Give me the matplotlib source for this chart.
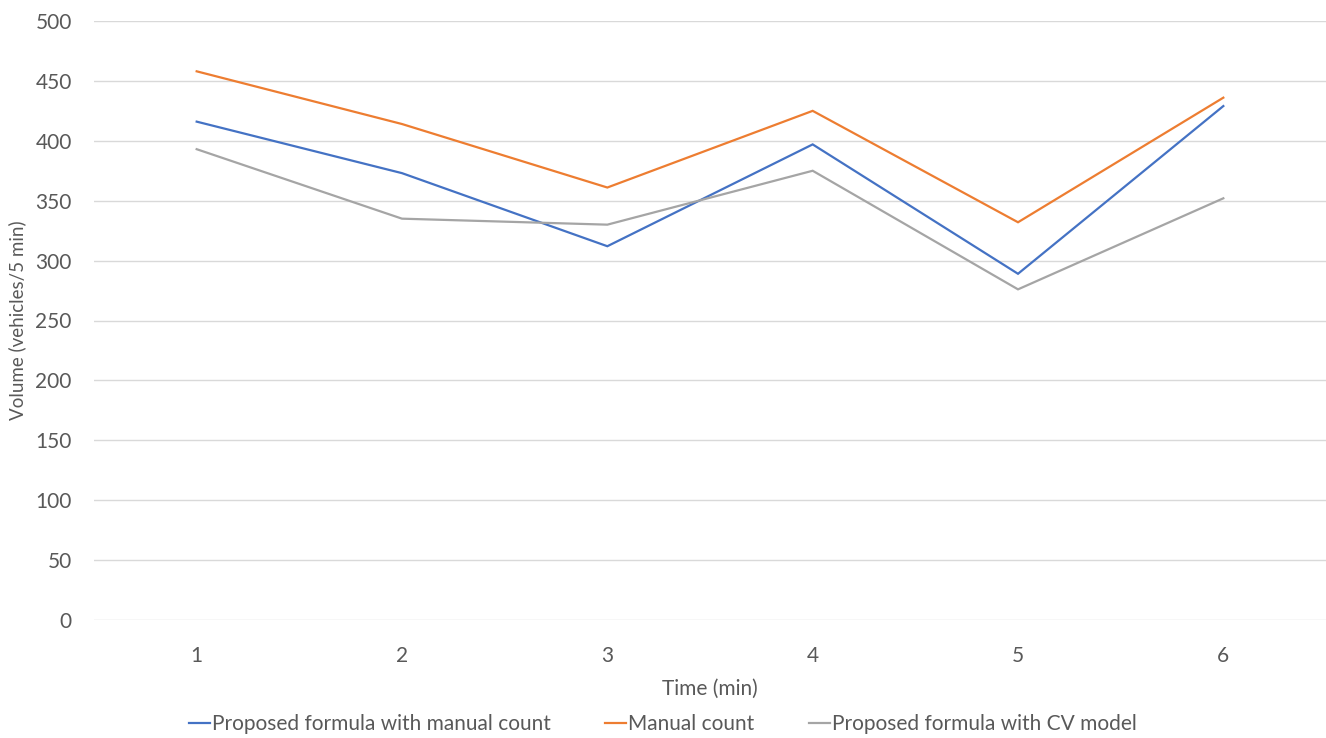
import matplotlib
matplotlib.use("Agg")
import matplotlib.pyplot as plt
from matplotlib.lines import Line2D

# Traffic volume per 5-minute interval
time_min = [1, 2, 3, 4, 5, 6]
formula_manual = [416, 373, 312, 397, 289, 429]
manual_count = [458, 414, 361, 425, 332, 436]
formula_cv = [393, 335, 330, 375, 276, 352]

y_ticks = [0, 50, 100, 150, 200, 250, 300, 350, 400, 450, 500]

series_labels = ["Proposed formula with manual count",
                 "Manual count",
                 "Proposed formula with CV model"]
series_colors = ["#4472C4", "#ED7D31", "#A5A5A5"]

plt.rcParams["font.family"] = ["Lato", "DejaVu Sans"]
text_color = "#595959"
fs = 15

fig = plt.figure(figsize=(13.26, 7.38), dpi=100)
ax = fig.add_axes([94 / 1326, 1 - 620 / 738, 1 - 94 / 1326, (620 - 21) / 738])

positions = list(range(len(time_min)))
for values, color, label in zip([formula_manual, manual_count, formula_cv],
                                series_colors, series_labels):
    ax.plot(positions, values, color=color, lw=1.6, label=label,
            solid_joinstyle="miter")

ax.set_xlim(-0.5, len(time_min) - 0.5)
ax.set_ylim(0, 500)
ax.set_yticks(y_ticks)
ax.set_xticks(positions)
ax.set_xticklabels([str(t) for t in time_min])

ax.grid(axis="y", color="#D9D9D9", lw=1)
ax.set_axisbelow(True)
for spine in ax.spines.values():
    spine.set_visible(False)
ax.tick_params(axis="both", length=0, labelsize=fs, colors=text_color)
ax.tick_params(axis="y", pad=16)
ax.tick_params(axis="x", pad=19)

ax.set_xlabel("Time (min)", fontsize=fs, color=text_color, labelpad=9)
ax.set_ylabel("Volume (vehicles/5 min)", fontsize=13.5, color=text_color)
ax.yaxis.set_label_coords(-0.055, 0.5)

handles = [Line2D([0], [0], color=c, lw=1.6) for c in series_colors]
leg = fig.legend(handles, series_labels, loc="center", bbox_to_anchor=(0.5, 1 - 724 / 738),
                 ncol=3, frameon=False, fontsize=fs, handlelength=1.0,
                 handletextpad=0.1, columnspacing=2.6, labelcolor=text_color)

fig.savefig("out.png", dpi=100, facecolor="white")
